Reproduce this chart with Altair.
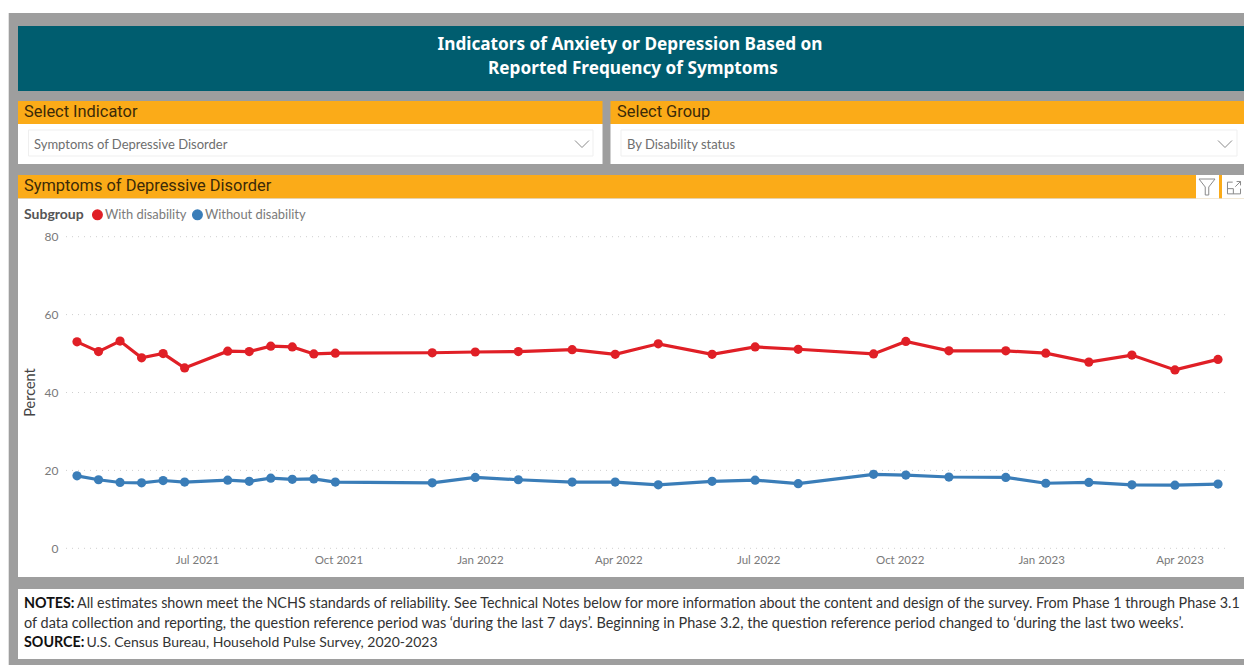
import altair as alt
import pandas as pd

# Survey period start dates (Household Pulse Survey, Phase 3.1 onward)
dates = [
    "2021-04-14", "2021-04-28", "2021-05-12", "2021-05-26", "2021-06-09", "2021-06-23",
    "2021-07-21", "2021-08-04", "2021-08-18", "2021-09-01", "2021-09-15", "2021-09-29",
    "2021-12-01", "2021-12-29", "2022-01-26", "2022-03-02", "2022-03-30", "2022-04-27",
    "2022-06-01", "2022-06-29", "2022-07-27", "2022-09-14", "2022-10-05", "2022-11-02",
    "2022-12-09", "2023-01-04", "2023-02-01", "2023-03-01", "2023-03-29", "2023-04-26",
]
with_disability = [
    53.0, 50.5, 53.2, 48.9, 50.0, 46.3, 50.6, 50.5, 51.9, 51.7, 49.9, 50.1, 50.2, 50.4, 50.5,
    51.0, 49.8, 52.5, 49.8, 51.7, 51.1, 49.9, 53.1, 50.7, 50.7, 50.1, 47.8, 49.6, 45.8, 48.5,
]
without_disability = [
    18.6, 17.6, 16.9, 16.8, 17.4, 17.0, 17.5, 17.2, 18.0, 17.7, 17.8, 17.0, 16.8, 18.2, 17.6,
    17.0, 17.0, 16.3, 17.2, 17.5, 16.6, 19.0, 18.8, 18.3, 18.2, 16.7, 16.9, 16.3, 16.2, 16.5,
]
y_ticks = [0, 20, 40, 60, 80]
x_ticks = [
    (2021, 7), (2021, 10), (2022, 1), (2022, 4), (2022, 7), (2022, 10), (2023, 1), (2023, 4),
]
groups = ["With disability", "Without disability"]
group_colors = ["#E01F26", "#3A7DB8"]

TEAL = "#005D6F"
ORANGE = "#FBAB18"
GRAY = "#9E9E9E"
INK = "#3B2A08"
BODY_FONT = "Lato"
HEAD_FONT = "Roboto"

ONE_ROW = alt.Data(values=[{}])


def box(x0, x1, y0, y1, fill, stroke=None):
    opts = {"fill": fill}
    if stroke:
        opts.update(stroke=stroke, strokeWidth=1)
    return alt.Chart(ONE_ROW).mark_rect(**opts).encode(
        x=alt.value(x0), x2=alt.value(x1), y=alt.value(y0), y2=alt.value(y1)
    )


def label(text, x, y, size, color, font=BODY_FONT, weight="normal", align="left"):
    return alt.Chart(ONE_ROW).mark_text(
        text=text, font=font, fontSize=size, color=color, fontWeight=weight,
        align=align, baseline="middle",
    ).encode(x=alt.value(x), y=alt.value(y))


def glyph(path, x, y, size, color="#8A8A8A"):
    return alt.Chart(ONE_ROW).mark_point(
        shape=path, size=size, filled=False, stroke=color, strokeWidth=1, opacity=1,
    ).encode(x=alt.value(x), y=alt.value(y))


CHEVRON = "M-1,-0.5L0,0.5L1,-0.5"
FUNNEL = "M-1,-1L1,-1L0.22,0L0.22,1L-0.22,1L-0.22,0Z"
EXPAND = "M-0.2,-0.9L-1,-0.9L-1,0.9L1,0.9L1,0.1M-1,0.1L-0.1,0.1L-0.1,0.9M0.2,-0.2L1,-1M0.4,-1L1,-1L1,-0.4"

# Dashboard panels behind the chart
panels = [
    box(8.7, 1244, 13, 665, GRAY),
    box(18, 1244, 26, 91, TEAL),
    box(18, 602.5, 101, 124, ORANGE),
    box(610.5, 1244, 101, 124, ORANGE),
    box(18, 602.5, 124, 164, "#FFFFFF"),
    box(610.5, 1244, 124, 164, "#FFFFFF"),
    box(28.5, 593, 130, 156, "#FFFFFF", "#EFEFEF"),
    box(621, 1237, 130, 156, "#FFFFFF", "#EFEFEF"),
    box(18, 1244, 175, 198.5, ORANGE),
    box(18, 1244, 198.5, 577, "#FFFFFF"),
    box(1196, 1219, 175, 198.5, "#FFFFFF"),
    box(1222, 1244, 175, 198.5, "#FFFFFF"),
    box(18, 1244, 589, 659, "#FFFFFF"),
]

texts = [
    label("Indicators of Anxiety or Depression Based on", 630, 45, 17.2, "#FFFFFF", "Noto Sans", "bold", "center"),
    label("Reported Frequency of Symptoms", 633, 68.5, 17.2, "#FFFFFF", "Noto Sans", "bold", "center"),
    label("Select Indicator", 24, 112, 16.4, INK, HEAD_FONT),
    label("Select Group", 617, 112, 16.4, INK, HEAD_FONT),
    label("Symptoms of Depressive Disorder", 24, 185.5, 16.4, INK, HEAD_FONT),
    label("Symptoms of Depressive Disorder", 34, 144.5, 13, "#6E6E6E"),
    label("By Disability status", 627, 144.5, 13, "#6E6E6E"),
    label("NOTES:", 24, 604, 14.3, "#111111", BODY_FONT, "bold"),
    label(
        "All estimates shown meet the NCHS standards of reliability. See Technical Notes below "
        "for more information about the content and design of the survey. From Phase 1 through Phase 3.1",
        77, 604, 14.35, "#333333",
    ),
    label(
        "of data collection and reporting, the question reference period was ‘during the last 7 days’. "
        "Beginning in Phase 3.2, the question reference period changed to ‘during the last two weeks’.",
        24, 623.5, 14.47, "#333333",
    ),
    label("SOURCE:", 24, 643, 14.3, "#111111", BODY_FONT, "bold"),
    label("U.S. Census Bureau, Household Pulse Survey, 2020-2023", 86.5, 643, 14, "#333333"),
]

icons = [
    glyph(CHEVRON, 582, 144, 196),
    glyph(CHEVRON, 1225, 144, 196),
    glyph(FUNNEL, 1207, 187, 256),
    glyph(EXPAND, 1234, 188, 170),
]

records = pd.DataFrame(
    {
        "date": dates * 2,
        "percent": with_disability + without_disability,
        "Subgroup": [groups[0]] * len(dates) + [groups[1]] * len(dates),
    }
)

x_scale = alt.Scale(
    type="utc",
    domain=[
        alt.DateTime(year=2021, month=4, date=14, utc=True),
        alt.DateTime(year=2023, month=4, date=26, utc=True),
    ],
    range=[77, 1218],
)
y_scale = alt.Scale(domain=[0, 80], range=[548.3, 236.7], nice=False)
color_scale = alt.Scale(domain=groups, range=group_colors)

# Axes and legend sit above the panels, so they carry a raised z-index
x_enc = alt.X(
    "date:T",
    scale=x_scale,
    axis=alt.Axis(
        values=[alt.DateTime(year=y, month=m, date=1, utc=True) for y, m in x_ticks],
        labelExpr="utcFormat(datum.value, '%b %Y')",
        title=None, domain=False, ticks=False, grid=False, zindex=1,
        offset=-105, labelPadding=0, labelFont=BODY_FONT, labelFontSize=11.5,
        labelColor="#7A7A7A", labelOverlap=False, labelBaseline="middle", labelFlush=False,
    ),
)
y_axis = alt.Axis(
    values=y_ticks, title="Percent", domain=False, ticks=False, grid=False, zindex=1,
    offset=-58, labelPadding=0, labelFont=BODY_FONT, labelFontSize=12,
    labelColor="#7A7A7A", titleFont=BODY_FONT, titleFontSize=14.5, titleFontWeight="normal",
    titleColor="#444444", titleX=-21, titleY=392, titleAngle=270, titleAlign="center",
)
y_enc = alt.Y("percent:Q", scale=y_scale, axis=y_axis)
color_enc = alt.Color(
    "Subgroup:N",
    scale=color_scale,
    legend=alt.Legend(
        orient="none", legendX=24, legendY=208, direction="horizontal", zindex=1,
        titleOrient="left", title="Subgroup", titleFont=BODY_FONT, titleFontSize=14,
        titleFontWeight="bold", titleColor="#555555", titlePadding=7,
        labelFont=BODY_FONT, labelFontSize=12.9, labelColor="#7A7A7A",
        symbolType="circle", symbolSize=90, symbolOpacity=1, columnPadding=2,
        labelOffset=1,
    ),
)

gridlines = (
    alt.Chart(pd.DataFrame({"tick": y_ticks}))
    .mark_rule(color="#CFCFCF", strokeWidth=1, strokeDash=[1, 5])
    .encode(
        y=alt.Y("tick:Q", scale=y_scale, axis=y_axis),
        x=alt.value(66),
        x2=alt.value(1225),
    )
)

lines = (
    alt.Chart(records)
    .mark_line(strokeWidth=3.2)
    .encode(x=x_enc, y=y_enc, color=color_enc)
)
points = (
    alt.Chart(records)
    .mark_point(filled=True, size=85, opacity=1)
    .encode(x=x_enc, y=y_enc, color=color_enc)
)

chart = alt.layer(*panels, *texts, *icons, gridlines, lines, points).properties(
    width=1244,
    height=665,
    padding=0,
    background="#FFFFFF",
    autosize=alt.AutoSizeParams(type="none"),
).configure_view(stroke=None)

chart.save("out.html", embed_options={"renderer": "svg", "actions": False})
